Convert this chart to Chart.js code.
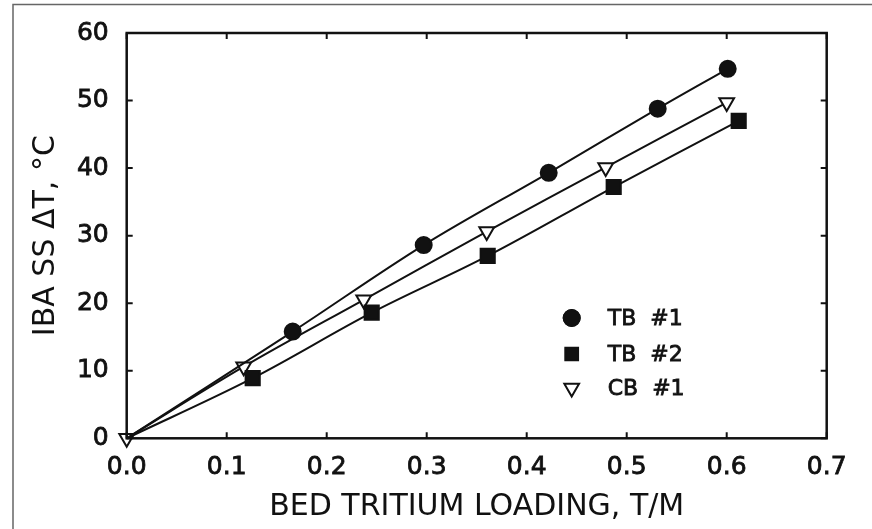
<!DOCTYPE html>
<html>
<head>
<meta charset="utf-8">
<script src="https://cdn.jsdelivr.net/npm/chart.js@4"></script>
<style>
html,body{margin:0;padding:0;background:#fff;}
#wrap{position:relative;width:872px;height:529px;}
</style>
</head>
<body>
<div id="wrap"><canvas id="c"></canvas></div>
<script>
// ---- data ----
const xTicks = [0.0, 0.1, 0.2, 0.3, 0.4, 0.5, 0.6, 0.7];
const yTicks = [0, 10, 20, 30, 40, 50, 60];
const seriesNames = ['TB  #1', 'TB  #2', 'CB  #1'];
const tb1X = [0, 0.166, 0.297, 0.422, 0.531, 0.601];
const tb1Y = [0, 15.8, 28.6, 39.3, 48.8, 54.7];
const tb2X = [0, 0.126, 0.245, 0.361, 0.487, 0.612];
const tb2Y = [0, 8.9, 18.6, 27.0, 37.2, 47.0];
const cb1X = [0, 0.117, 0.237, 0.360, 0.479, 0.600];
const cb1Y = [0, 10.6, 20.5, 30.6, 40.1, 49.7];
const xTitle = 'BED TRITIUM LOADING, T/M';
const yTitle = 'IBA SS \u0394T, \u00B0C';

const pts = (xs, ys) => xs.map((x, i) => ({x: x, y: ys[i]}));
const FONT = '"DejaVu Sans", sans-serif';
const INK = '#111';

const framePlugin = {
  id: 'frame',
  beforeDraw(chart) {
    const ctx = chart.ctx;
    ctx.save();
    ctx.strokeStyle = '#666';
    ctx.lineWidth = 1.5;
    ctx.beginPath();
    ctx.moveTo(13, 529);
    ctx.lineTo(13, 4.5);
    ctx.lineTo(872, 4.5);
    ctx.stroke();
    ctx.restore();
  },
  afterDatasetsDraw(chart) {
    const ctx = chart.ctx;
    const a = chart.chartArea;
    const xs = chart.scales.x, ys = chart.scales.y;
    ctx.save();
    ctx.strokeStyle = INK;
    ctx.lineWidth = 2;
    ctx.beginPath();
    const tl = 6;
    xs.ticks.forEach(t => {
      const p = xs.getPixelForValue(t.value);
      ctx.moveTo(p, a.bottom); ctx.lineTo(p, a.bottom - tl);
      ctx.moveTo(p, a.top); ctx.lineTo(p, a.top + tl);
    });
    ys.ticks.forEach(t => {
      const p = ys.getPixelForValue(t.value);
      ctx.moveTo(a.left, p); ctx.lineTo(a.left + tl, p);
      ctx.moveTo(a.right, p); ctx.lineTo(a.right - tl, p);
    });
    ctx.stroke();
    ctx.lineWidth = 2.5;
    ctx.strokeRect(a.left, a.top, a.right - a.left, a.bottom - a.top);
    ctx.restore();
  },
  afterDraw(chart) {
    // legend inside the plot area
    const ctx = chart.ctx;
    const a = chart.chartArea;
    const o = chart.options.plugins.frame;
    ctx.save();
    ctx.font = o.legendFont;
    ctx.textBaseline = 'middle';
    ctx.textAlign = 'left';
    let y = a.top + o.legendTop;
    chart.data.datasets.forEach((ds, i) => {
      if (i > 0) y += o.legendStep[i - 1];
      const x = a.left + o.legendLeft;
      Chart.helpers.drawPoint(ctx, {
        pointStyle: ds.pointStyle,
        radius: o.legendRadius[i],
        rotation: ds.rotation || 0,
        borderWidth: ds.pointBorderWidth
      }, x, y);
      ctx.fillStyle = ds.pointBackgroundColor;
      ctx.strokeStyle = INK;
      ctx.lineWidth = ds.pointBorderWidth;
      ctx.fill();
      ctx.stroke();
      ctx.fillStyle = INK;
      ctx.lineWidth = 0.8;
      ctx.strokeText(ds.label, x + o.legendGap, y + 1);
      ctx.fillText(ds.label, x + o.legendGap, y + 1);
    });
    ctx.restore();
  }
};

const common = {
  showLine: true,
  borderColor: INK,
  borderWidth: 2,
  tension: 0.35,
  pointBorderColor: INK,
  pointBorderWidth: 2,
  clip: false
};

new Chart(document.getElementById('c'), {
  type: 'scatter',
  data: {
    datasets: [
      Object.assign({}, common, {
        label: seriesNames[0], data: pts(tb1X, tb1Y),
        pointStyle: 'circle', pointRadius: [0, 8, 8, 8, 8, 8],
        pointBackgroundColor: INK
      }),
      Object.assign({}, common, {
        label: seriesNames[1], data: pts(tb2X, tb2Y),
        pointStyle: 'rect', pointRadius: [0, 10, 10, 10, 10, 10],
        pointBackgroundColor: INK
      }),
      Object.assign({}, common, {
        label: seriesNames[2], data: pts(cb1X, cb1Y),
        pointStyle: 'triangle', rotation: 180, pointRotation: 180,
        pointRadius: 8.5,
        pointBackgroundColor: '#fff'
      })
    ]
  },
  options: {
    responsive: true,
    maintainAspectRatio: false,
    animation: false,
    layout: {padding: {left: 0, top: 26, right: 45.3, bottom: 0}},
    plugins: {
      legend: {display: false},
      tooltip: {enabled: false},
      frame: {
        legendFont: '22px ' + FONT,
        legendLeft: 445, legendTop: 285, legendStep: [36, 34],
        legendRadius: [8, 9, 8.5], legendGap: 36
      }
    },
    scales: {
      x: {
        type: 'linear', min: 0, max: 0.7,
        afterBuildTicks: s => { s.ticks = xTicks.map(v => ({value: v})); },
        afterFit: s => { s.height = 529 - 438.3; },
        grid: {display: false, drawTicks: false},
        border: {display: false},
        ticks: {
          color: INK, padding: 14,
          textStrokeColor: INK, textStrokeWidth: 0.8,
          font: {family: FONT, size: 25},
          callback: v => v.toFixed(1),
          maxRotation: 0, autoSkip: false
        },
        title: {
          display: true, text: xTitle, color: INK,
          font: {family: FONT, size: 30},
          padding: {top: 0, bottom: 4}
        }
      },
      y: {
        type: 'linear', min: 0, max: 60,
        afterBuildTicks: s => { s.ticks = yTicks.map(v => ({value: v})); },
        afterFit: s => { s.width = 126.7; },
        grid: {display: false, drawTicks: false},
        border: {display: false},
        ticks: {
          color: INK, padding: 18,
          textStrokeColor: INK, textStrokeWidth: 0.8,
          font: {family: FONT, size: 25},
          callback: v => String(v),
          autoSkip: false
        },
        title: {
          display: true, text: yTitle, color: INK,
          font: {family: FONT, size: 30},
          padding: {top: 28, bottom: 0}
        }
      }
    }
  },
  plugins: [framePlugin]
});
</script>
</body>
</html>
